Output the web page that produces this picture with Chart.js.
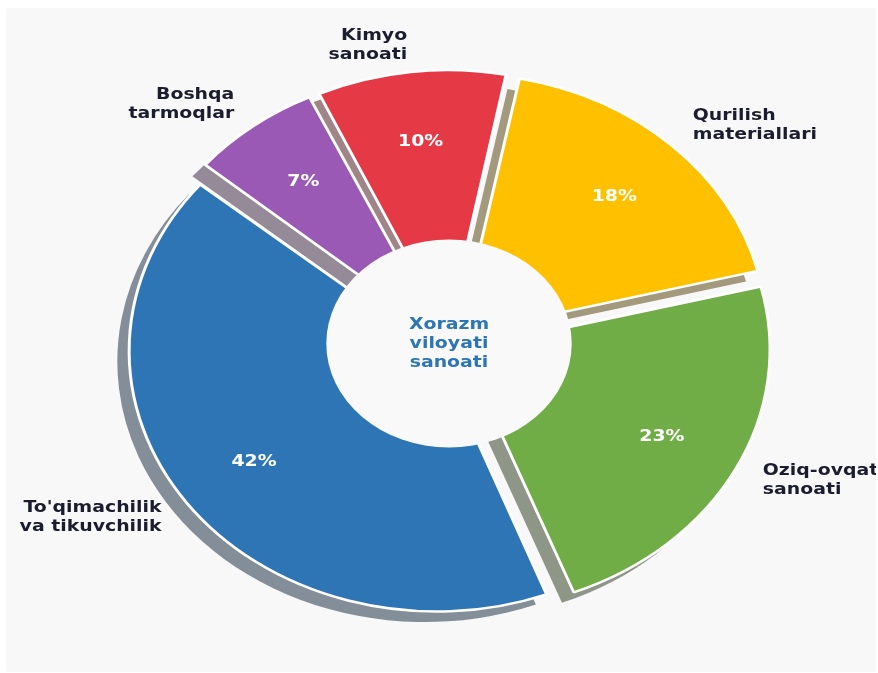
<!DOCTYPE html>
<html>
<head>
<meta charset="utf-8">
<script src="https://cdn.jsdelivr.net/npm/chart.js@4.4.1/dist/chart.umd.min.js"></script>
<style>
  html, body { margin: 0; padding: 0; background: #ffffff; }
  #frame { position: absolute; left: 6px; top: 8px; width: 870px; height: 664px; background: #f8f8f8; border-radius: 3px; }
  canvas { display: block; }
</style>
</head>
<body>
<div id="frame"><canvas id="myChart" width="870" height="664"></canvas></div>
<script>
// drawn clockwise from the upper left
const categories = ['Boshqa\ntarmoqlar', 'Kimyo\nsanoati', 'Qurilish\nmateriallari', 'Oziq-ovqat\nsanoati', "To'qimachilik\nva tikuvchilik"];
const shares = [7, 10, 18, 23, 42];
const sliceColors = ['#9B59B6', '#E63946', '#FFC000', '#70AD47', '#2E75B6'];
const centerTitle = ['Xorazm', 'viloyati', 'sanoati'];

const RADIUS = 260.5;
const HOLE = 104;
const PUSH = 13;        // every slice is pulled out a bit
const STRETCH = 1.18;   // the picture is wider than tall
const SHADOW_DX = -10;
const SHADOW_DY = 10.5;
const FONT = 'bold 16px "DejaVu Sans"';

function shadowOf(hex) {
  const n = parseInt(hex.slice(1), 16);
  const r = (n >> 16) & 255, g = (n >> 8) & 255, b = n & 255;
  return 'rgba(' + Math.round(r * 0.3) + ',' + Math.round(g * 0.3) + ',' + Math.round(b * 0.3) + ',0.5)';
}

function drawLines(ctx, lines, x, y, lineH) {
  const top = y - (lines.length - 1) * lineH / 2;
  lines.forEach((t, k) => ctx.fillText(t, x, top + k * lineH));
}

const pieDecor = {
  id: 'pieDecor',
  afterDatasetUpdate(chart) {
    // chart.js grows narrow offset slices a little, undo that so all radii match
    chart.getDatasetMeta(0).data.forEach(arc => {
      const fix = 1 - Math.sin(Math.min(Math.PI, arc.circumference));
      arc.outerRadius = RADIUS - PUSH * fix;
    });
  },
  beforeDatasetsDraw(chart) {
    const ctx = chart.ctx;
    const arcs = chart.getDatasetMeta(0).data;
    const cx = arcs[0].x;
    ctx.save();
    ctx.translate(cx, 0);
    ctx.scale(STRETCH, 1);
    ctx.translate(-cx, 0);
    arcs.forEach((arc, i) => {
      const mid = (arc.startAngle + arc.endAngle) / 2;
      const x = arc.x + PUSH * Math.cos(mid) + SHADOW_DX;
      const y = arc.y + PUSH * Math.sin(mid) + SHADOW_DY;
      ctx.beginPath();
      ctx.moveTo(x, y);
      ctx.arc(x, y, RADIUS, arc.startAngle, arc.endAngle);
      ctx.closePath();
      ctx.fillStyle = shadowOf(sliceColors[i]);
      ctx.fill();
    });
  },
  afterDatasetsDraw(chart) {
    const ctx = chart.ctx;
    const arcs = chart.getDatasetMeta(0).data;
    const cx = arcs[0].x, cy = arcs[0].y;

    // the hole
    ctx.beginPath();
    ctx.arc(cx, cy, HOLE, 0, Math.PI * 2);
    ctx.fillStyle = '#f9f9f9';
    ctx.fill();

    ctx.font = FONT;
    ctx.textBaseline = 'middle';
    arcs.forEach((arc, i) => {
      const mid = (arc.startAngle + arc.endAngle) / 2;
      const c = Math.cos(mid), s = Math.sin(mid);
      // category name outside
      const lr = RADIUS * 1.1 + PUSH;
      ctx.fillStyle = '#1c1c30';
      ctx.textAlign = c >= 0 ? 'left' : 'right';
      drawLines(ctx, categories[i].split('\n'), cx + lr * c, cy + lr * s - 1, 19);
      // share inside
      const pr = RADIUS * 0.73 + PUSH;
      ctx.fillStyle = '#ffffff';
      ctx.textAlign = 'center';
      ctx.fillText(shares[i] + '%', cx + pr * c, cy + pr * s);
    });

    ctx.fillStyle = '#2E75B6';
    ctx.textAlign = 'center';
    drawLines(ctx, centerTitle, cx, cy, 19);
    ctx.restore();
  }
};

const myChart = new Chart(document.getElementById('myChart'), {
  type: 'pie',
  data: {
    labels: categories,
    datasets: [{
      data: shares,
      backgroundColor: sliceColors,
      borderColor: '#ffffff',
      borderWidth: 2.5,
      offset: PUSH * 4,
      clip: false
    }]
  },
  options: {
    responsive: false,
    animation: false,
    rotation: -50,
    radius: RADIUS,
    layout: { padding: { left: 16, right: 0, top: 7, bottom: 0 } },
    plugins: { legend: { display: false }, tooltip: { enabled: false } }
  },
  plugins: [pieDecor]
});
</script>
</body>
</html>
